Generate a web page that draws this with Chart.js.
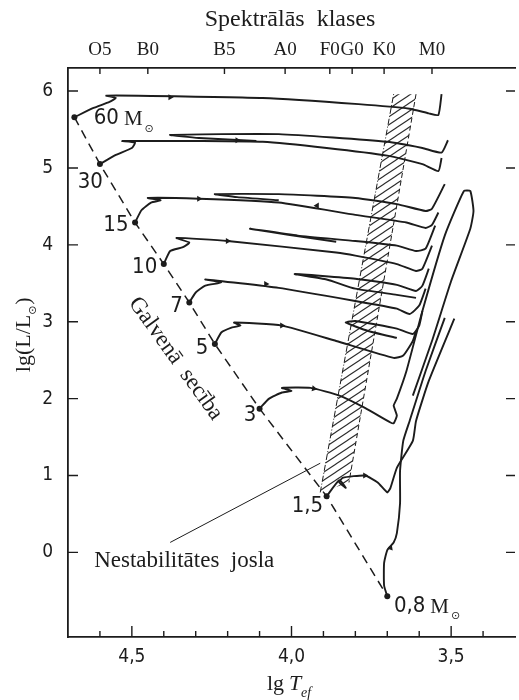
<!DOCTYPE html>
<html>
<head>
<meta charset="utf-8">
<script src="https://cdn.jsdelivr.net/npm/chart.js@4.4.1/dist/chart.umd.min.js"></script>
<style>
  html, body { margin: 0; padding: 0; background: #fff; }
  canvas { display: block; }
</style>
</head>
<body>
<canvas id="hr" width="519" height="700"></canvas>
<script>
// ---- axes ----
const xMajorTicks = [4.5, 4.0, 3.5];
const xMajorLabels = ['4,5', '4,0', '3,5'];
const xMinorTicks = [4.6, 4.4, 4.3, 4.2, 4.1, 3.9, 3.8, 3.7, 3.6, 3.4];
const yTicks = [0, 1, 2, 3, 4, 5, 6];
const spectralClasses = ['O5', 'B0', 'B5', 'A0', 'F0', 'G0', 'K0', 'M0'];
const spectralLgT = [4.60, 4.45, 4.21, 4.02, 3.88, 3.81, 3.71, 3.56];

// ---- zero-age main sequence (initial masses, solar units) ----
const zamsMass = ['60', '30', '15', '10', '7', '5', '3', '1,5', '0,8'];
const zamsLgT = [4.68, 4.60, 4.49, 4.40, 4.32, 4.24, 4.10, 3.89, 3.70];
const zamsLgL = [5.66, 5.05, 4.29, 3.75, 3.25, 2.71, 1.87, 0.73, -0.57];
const massLabelLgT = [4.58, 4.63, 4.55, 4.46, 4.36, 4.28, 4.13, 3.95, 3.63];
const massLabelLgL = [5.64, 4.82, 4.25, 3.71, 3.20, 2.66, 1.79, 0.60, -0.70];

// ---- evolutionary tracks, [lg Tef, lg L] ----
const track60 = [[4.68,5.66],[4.62,5.78],[4.57,5.86],[4.55,5.91],[4.58,5.94],[4.48,5.94],[4.09,5.91],[3.79,5.83],[3.63,5.77],[3.57,5.71],[3.54,5.69],[3.53,5.96]];
const track30 = [[4.60,5.05],[4.55,5.17],[4.50,5.26],[4.49,5.33],[4.53,5.35],[4.29,5.35],[4.09,5.34],[3.89,5.26],[3.70,5.16],[3.59,5.05],[3.54,4.96],[3.53,5.13]];
const loop30 = [[3.51,5.36],[3.53,5.20],[3.59,5.26],[3.70,5.34],[4.04,5.44],[4.38,5.43],[4.29,5.39],[4.11,5.35]];
const track15 = [[4.49,4.29],[4.47,4.45],[4.44,4.55],[4.41,4.58],[4.45,4.61],[4.29,4.60],[4.04,4.55],[3.80,4.39],[3.64,4.29],[3.58,4.22],[3.56,4.26],[3.54,4.42]];
const loop15 = [[3.52,4.79],[3.56,4.47],[3.58,4.44],[3.67,4.53],[3.80,4.61],[4.04,4.66],[4.24,4.66],[4.17,4.62],[4.04,4.58]];
const track10 = [[4.40,3.75],[4.38,3.92],[4.34,3.97],[4.32,4.03],[4.36,4.09],[4.20,4.05],[3.86,3.90],[3.80,3.86],[3.67,3.75],[3.61,3.66],[3.59,3.69],[3.56,3.99]];
const loop10 = [[3.55,4.25],[3.58,3.95],[3.61,3.92],[3.67,3.99],[3.80,4.05],[3.98,4.12],[4.13,4.21],[4.01,4.13],[3.86,4.04]];
const track7 = [[4.32,3.25],[4.30,3.38],[4.27,3.47],[4.22,3.51],[4.27,3.55],[4.04,3.44],[3.80,3.27],[3.67,3.17],[3.63,3.10],[3.60,3.21],[3.58,3.43]];
const loop7 = [[3.57,3.69],[3.59,3.47],[3.61,3.40],[3.67,3.48],[3.80,3.56],[3.99,3.62],[3.89,3.55],[3.80,3.43],[3.67,3.35],[3.61,3.31]];
const track5 = [[4.24,2.71],[4.22,2.86],[4.19,2.92],[4.16,2.95],[4.18,2.99],[4.03,2.95],[3.86,2.75],[3.68,2.53],[3.65,2.56],[3.62,2.75],[3.61,2.88]];
const loop5 = [[3.59,3.14],[3.60,2.95],[3.62,2.84],[3.67,2.91],[3.80,3.01],[3.83,2.99],[3.76,2.88],[3.67,2.79]];
const track3 = [[4.10,1.87],[4.07,2.00],[4.03,2.08],[4.00,2.10],[4.03,2.14],[3.94,2.14],[3.85,2.04],[3.77,1.88],[3.69,1.69],[3.68,1.68],[3.67,1.78],[3.68,1.91],[3.67,2.00],[3.64,2.36],[3.59,3.14],[3.52,4.12],[3.46,4.70],[3.44,4.70],[3.43,4.44],[3.44,4.21],[3.50,3.53],[3.56,2.75],[3.62,2.04]];
const track1p5 = [[3.89,0.73],[3.85,0.94],[3.83,0.84],[3.85,0.91],[3.84,0.97],[3.77,1.00],[3.73,0.91],[3.70,0.78],[3.69,0.84],[3.67,1.10],[3.62,1.45],[3.61,1.71],[3.57,2.23],[3.49,3.04]];
const track0p8 = [[3.70,-0.57],[3.71,-0.43],[3.71,-0.14],[3.70,0.03],[3.68,0.13],[3.67,0.25],[3.66,0.64],[3.66,1.06],[3.65,1.45],[3.63,1.71],[3.58,2.36],[3.52,3.05]];

// direction markers along the tracks
const arrowLgT = [4.38, 4.17, 4.29, 3.92, 4.20, 4.08, 4.03, 3.93, 3.77, 3.69];
const arrowLgL = [5.92, 5.36, 4.60, 4.51, 4.05, 3.49, 2.95, 2.13, 1.00, 0.06];
const arrowAngle = [90, 90, 90, 270, 90, 90, 90, 100, 90, 20];

// instability strip outline and its pointer line
const stripLgT = [3.91, 3.68, 3.61, 3.82];
const stripLgL = [0.78, 5.96, 5.96, 0.91];
const pointerLine = [[4.38, 0.13], [3.91, 1.16]];

const SERIF = "'Liberation Serif', 'DejaVu Serif', serif";
const NARROW = "'Liberation Sans Narrow', 'DejaVu Sans Condensed', 'Liberation Sans', sans-serif";
const INK = '#1c1c1c';

const canvas = document.getElementById('hr');
const mainCtx = canvas.getContext('2d');

function hatchPattern() {
  const c = document.createElement('canvas');
  c.width = 12; c.height = 8;
  const g = c.getContext('2d');
  g.strokeStyle = '#2a2a2a';
  g.lineWidth = 1.1;
  g.beginPath();
  for (let k = 0; k <= 2; k++) {
    g.moveTo(-3, 8 * k + 2);
    g.lineTo(15, 8 * k - 10);
  }
  g.stroke();
  return mainCtx.createPattern(c, 'repeat');
}

const pts = arr => arr.map(([a, b]) => ({ x: a, y: b }));
const track = (arr, extra) => Object.assign({
  data: pts(arr), showLine: true, borderColor: INK, borderWidth: 1.9,
  pointRadius: 0, tension: 0.16, fill: false, order: 2
}, extra || {});

const stripPoly = stripLgT.map((t, i) => ({ x: t, y: stripLgL[i] }));
stripPoly.push(stripPoly[0]);

const datasets = [
  { data: stripPoly, showLine: true, borderWidth: 0, borderColor: 'rgba(0,0,0,0)', pointRadius: 0,
    fill: 'shape', backgroundColor: hatchPattern(), tension: 0, order: 9 },
  { data: [stripPoly[0], stripPoly[1]], showLine: true, borderColor: INK, borderWidth: 1,
    borderDash: [6, 2, 1, 2], pointRadius: 0, order: 8 },
  { data: [stripPoly[2], stripPoly[3]], showLine: true, borderColor: INK, borderWidth: 1,
    borderDash: [5, 3], pointRadius: 0, order: 8 },
  { data: zamsLgT.map((t, i) => ({ x: t, y: zamsLgL[i] })), showLine: true, borderColor: INK,
    borderWidth: 1.5, borderDash: [9, 6], pointRadius: 0, tension: 0, order: 3 },
  track(track60), track(track30), track(loop30), track(track15), track(loop15),
  track(track10), track(loop10), track(track7), track(loop7), track(track5), track(loop5),
  track(track3), track(track1p5), track(track0p8),
  { data: pts(pointerLine), showLine: true, borderColor: INK, borderWidth: 1, pointRadius: 0, order: 2 },
  { data: zamsLgT.map((t, i) => ({ x: t, y: zamsLgL[i] })), showLine: false, pointRadius: 3,
    pointBackgroundColor: INK, pointBorderWidth: 0, order: 1 },
  { data: arrowLgT.map((t, i) => ({ x: t, y: arrowLgL[i] })), showLine: false, pointStyle: 'triangle',
    rotation: arrowAngle, pointRadius: 3.5, pointBackgroundColor: INK, pointBorderWidth: 0, order: 1 }
];

// inward tick marks on all four sides
const insideTicks = {
  id: 'insideTicks',
  afterDraw(chart) {
    const { ctx, chartArea: a, scales: { x, y } } = chart;
    ctx.save();
    ctx.strokeStyle = INK;
    ctx.lineWidth = 1.4;
    ctx.beginPath();
    xMajorTicks.forEach(v => { const p = x.getPixelForValue(v); ctx.moveTo(p, a.bottom); ctx.lineTo(p, a.bottom - 11); });
    xMinorTicks.forEach(v => { const p = x.getPixelForValue(v); ctx.moveTo(p, a.bottom); ctx.lineTo(p, a.bottom - 6); });
    spectralLgT.forEach(v => { const p = x.getPixelForValue(v); ctx.moveTo(p, a.top); ctx.lineTo(p, a.top + 6); });
    yTicks.forEach(v => {
      const p = y.getPixelForValue(v);
      ctx.moveTo(a.left, p); ctx.lineTo(a.left + 10, p);
      ctx.moveTo(a.right, p); ctx.lineTo(a.right - 9, p);
    });
    ctx.stroke();
    ctx.restore();
  }
};

// labels on the diagram and axis titles
const diagramText = {
  id: 'diagramText',
  afterDatasetsDraw(chart) {
    const { ctx, scales: { x, y } } = chart;
    ctx.save();
    ctx.fillStyle = INK;
    ctx.textBaseline = 'middle';
    zamsMass.forEach((m, i) => {
      const px = x.getPixelForValue(massLabelLgT[i]);
      const py = y.getPixelForValue(massLabelLgL[i]);
      ctx.font = '22px ' + NARROW;
      ctx.textAlign = 'center';
      ctx.fillText(m, px, py);
      if (i === 0 || i === zamsMass.length - 1) {
        const w = ctx.measureText(m).width;
        ctx.textAlign = 'left';
        ctx.font = '21px ' + SERIF;
        ctx.fillText('M', px + w / 2 + 5, py + 1);
        const wm = ctx.measureText('M').width;
        ctx.font = '11px DejaVu Sans';
        ctx.fillText('\u2299', px + w / 2 + 7 + wm, py + 10);
      }
    });

    // main sequence caption along the dashed line
    ctx.save();
    ctx.translate(x.getPixelForValue(4.363), y.getPixelForValue(2.52));
    ctx.rotate(54.4 * Math.PI / 180);
    ctx.font = '23px ' + SERIF;
    ctx.textAlign = 'center';
    ctx.fillText('Galvenā  secība', 0, 0);
    ctx.restore();

    // instability strip caption
    ctx.font = '23px ' + SERIF;
    ctx.textAlign = 'left';
    ctx.textBaseline = 'alphabetic';
    ctx.fillText('Nestabilitātes  josla', x.getPixelForValue(4.618), y.getPixelForValue(-0.195));

    // top title
    ctx.textAlign = 'center';
    ctx.font = '24px ' + SERIF;
    ctx.fillText('Spektrālās  klases', 290, 26);

    // bottom title: lg T_ef
    ctx.textAlign = 'left';
    ctx.font = '22px ' + SERIF;
    ctx.fillText('lg', 267, 690);
    ctx.font = 'italic 22px ' + SERIF;
    ctx.fillText('T', 289, 690);
    ctx.font = 'italic 14px ' + SERIF;
    ctx.fillText('ef', 301, 697);

    // left title: lg(L/L_sun)
    ctx.save();
    ctx.translate(30, 335);
    ctx.rotate(-Math.PI / 2);
    ctx.textAlign = 'left';
    ctx.font = '22px ' + SERIF;
    const s1 = 'lg(L/L';
    const w1 = ctx.measureText(s1).width;
    const wsym = 10;
    const total = w1 + wsym + 7;
    ctx.fillText(s1, -total / 2, 0);
    ctx.font = '11px DejaVu Sans';
    ctx.fillText('\u2299', -total / 2 + w1, 6);
    ctx.font = '22px ' + SERIF;
    ctx.fillText(')', -total / 2 + w1 + wsym, 0);
    ctx.restore();

    ctx.restore();
  }
};

new Chart(canvas, {
  type: 'scatter',
  data: { datasets },
  options: {
    responsive: false,
    animation: false,
    devicePixelRatio: 1,
    layout: { padding: 0 },
    plugins: { legend: { display: false }, tooltip: { enabled: false } },
    scales: {
      x: {
        type: 'linear', position: 'bottom', min: 3.30, max: 4.70, reverse: true,
        grid: { display: false, drawTicks: false },
        border: { display: true, color: INK, width: 1.8 },
        afterBuildTicks: s => { s.ticks = xMajorTicks.map(v => ({ value: v })); },
        afterFit: s => { s.height = 63; },
        ticks: { autoSkip: false, maxRotation: 0, padding: 9, color: INK,
                 font: { family: NARROW, size: 19 }, callback: (v, i) => xMajorLabels[i] }
      },
      x2: {
        type: 'linear', position: 'top', min: 3.30, max: 4.70, reverse: true,
        grid: { display: false, drawTicks: false },
        border: { display: true, color: INK, width: 1.8 },
        afterBuildTicks: s => { s.ticks = spectralLgT.map(v => ({ value: v })); },
        afterFit: s => { s.height = 68; },
        ticks: { autoSkip: false, maxRotation: 0, padding: 7, color: INK,
                 font: { family: SERIF, size: 19 }, callback: (v, i) => spectralClasses[i] }
      },
      y: {
        type: 'linear', position: 'left', min: -1.1, max: 6.3,
        grid: { display: false, drawTicks: false },
        border: { display: true, color: INK, width: 1.8 },
        afterBuildTicks: s => { s.ticks = yTicks.map(v => ({ value: v })); },
        afterFit: s => { s.width = 68; },
        ticks: { padding: 15, color: INK, font: { family: NARROW, size: 19 },
                 callback: v => String(v) }
      }
    }
  },
  plugins: [insideTicks, diagramText]
});
</script>
</body>
</html>
